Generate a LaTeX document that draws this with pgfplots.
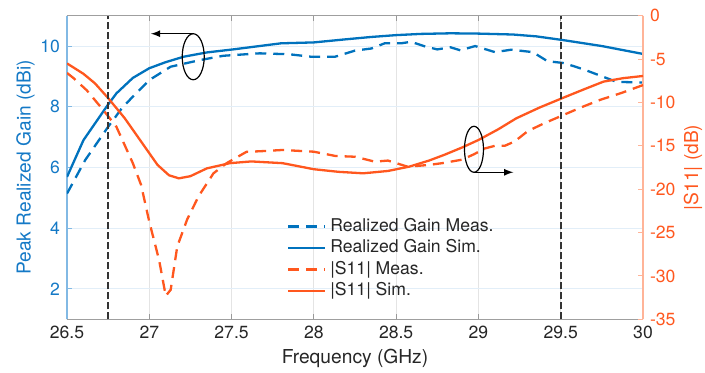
\documentclass[border=0pt]{standalone}
\usepackage{fontspec}
\setmainfont{TeX Gyre Heros}
\usepackage{pgfplots}
\pgfplotsset{compat=1.18}
\definecolor{gb}{RGB}{0,114,189}
\definecolor{gbl}{RGB}{20,121,198}
\definecolor{gbaxis}{RGB}{130,185,228}
\definecolor{so}{RGB}{255,87,30}
\definecolor{soaxis}{RGB}{255,180,152}
\definecolor{gridb}{RGB}{226,238,248}
\definecolor{gridg}{RGB}{228,228,228}
\tikzset{
  tfont/.style={font=\fontsize{8.8}{10}\selectfont},
  lfont/.style={font=\fontsize{9.6}{11}\selectfont},
}
\begin{document}
\begin{tikzpicture}
\begin{axis}[
  scale only axis, width=288pt, height=151.8pt,
  xmin=26.5, xmax=30, ymin=1, ymax=11,
  xtick={26.5,27,...,30}, ytick={2,4,...,10},
  axis x line=box, axis y line*=left,
  x axis line style={color=gray!75, line width=0.6pt},
  y axis line style={color=gbaxis, line width=0.6pt},
  xtick style={color=gray!80, line width=0.5pt},
  ytick style={color=gbaxis, line width=0.5pt},
  major tick length=2.7pt,
  tick align=inside,
  grid=major,
  x grid style={color=gridg, line width=0.5pt},
  y grid style={color=gridb, line width=0.5pt},
  /pgf/number format/assume math mode=true,
  xticklabel style={tfont, text=black!85},
  yticklabel style={tfont, text=gbl},
  xlabel={Frequency (GHz)},
  xlabel style={lfont, text=black!85, at={(axis description cs:0.5,-0.1285)}, anchor=center},
  ylabel={Peak Realized Gain (dBi)},
  ylabel style={lfont, text=gbl, at={(axis description cs:-0.072,0.5)}, anchor=center},
]
\addplot[gb, line width=1.15pt, dash pattern=on 5.5pt off 3.5pt] coordinates {
(26.50,5.14) (26.61,6.24) (26.75,7.34) (26.84,8.00) (27.00,8.88) (27.13,9.32)
(27.31,9.54) (27.45,9.68) (27.67,9.76) (27.85,9.73) (27.98,9.65) (28.13,9.65)
(28.25,9.85) (28.35,9.92) (28.43,10.09) (28.53,10.09) (28.59,10.14) (28.68,9.98)
(28.75,9.89) (28.83,9.96) (28.89,9.86) (28.98,10.00) (29.10,9.80) (29.20,9.88)
(29.33,9.80) (29.42,9.50) (29.52,9.44) (29.64,9.23) (29.84,8.82) (30.00,8.80)
};
\addplot[gb, line width=1.15pt] coordinates {
(26.50,5.69) (26.60,6.90) (26.74,8.00) (26.80,8.44) (26.90,8.95) (27.00,9.27)
(27.10,9.47) (27.21,9.65) (27.35,9.79) (27.51,9.89) (27.64,9.98) (27.80,10.09)
(28.00,10.12) (28.19,10.22) (28.35,10.30) (28.50,10.36) (28.65,10.40) (28.83,10.42)
(29.00,10.41) (29.21,10.38) (29.35,10.32) (29.51,10.20) (29.75,10.00) (30.00,9.74)
};
\draw[black, line width=0.6pt] (axis cs:27.267,9.648) ellipse [x radius=5.5pt, y radius=11.5pt];
\draw[black, line width=0.6pt, -latex] (axis cs:27.267,10.406) -- (axis cs:27.01,10.406);
\end{axis}
\begin{axis}[
  scale only axis, width=288pt, height=151.8pt,
  xmin=26.5, xmax=30, ymin=-35, ymax=0,
  ytick={-35,-30,...,0},
  axis x line=none, axis y line*=right,
  y axis line style={color=soaxis, line width=0.6pt},
  ytick style={color=soaxis, line width=0.5pt},
  major tick length=2.7pt,
  tick align=inside,
  /pgf/number format/assume math mode=true,
  yticklabel style={tfont, text=so},
  ylabel={|S11| (dB)},
  ylabel style={lfont, text=so, at={(axis description cs:1.0868,0.5)}, anchor=center},
  legend cell align=left,
  legend style={at={(0.3814,0.334)}, anchor=north west, draw=none, fill=none,
    inner sep=0pt, row sep=2.4pt, tfont,
    nodes={inner sep=0pt, text height=6.5pt, text depth=1.8pt, text=black!85}},
  legend image code/.code={\draw[#1] (0pt,0pt) -- (18.3pt,0pt);},
]
\addlegendimage{gb, line width=1.15pt, dash pattern=on 5.5pt off 3.5pt}
\addlegendentry{\hspace{2.2pt}Realized Gain Meas.}
\addlegendimage{gb, line width=1.15pt}
\addlegendentry{\hspace{2.2pt}Realized Gain Sim.}
\addplot[so, line width=1.15pt, dash pattern=on 5.5pt off 3.5pt] coordinates {
(26.50,-6.6) (26.54,-7.2) (26.62,-8.6) (26.72,-10.87) (26.80,-12.8) (26.90,-17.0)
(26.95,-19.5) (27.00,-23.75) (27.06,-28.2) (27.10,-32.3) (27.13,-31.6) (27.17,-26.6)
(27.23,-23.5) (27.30,-20.8) (27.39,-18.17) (27.47,-17.0) (27.59,-15.7) (27.70,-15.6)
(27.81,-15.48) (28.00,-15.68) (28.13,-16.17) (28.25,-16.26) (28.37,-16.83) (28.45,-16.7)
(28.57,-17.41) (28.70,-17.2) (28.78,-17.0) (28.90,-16.6) (28.97,-16.0) (29.04,-15.3)
(29.10,-15.0) (29.16,-15.0) (29.22,-14.5) (29.30,-13.3) (29.40,-12.4) (29.51,-11.5)
(29.62,-10.6) (29.74,-9.7) (29.87,-8.9) (30.00,-8.0)
};
\addlegendentry{\hspace{2.2pt}|S11| Meas.}
\addplot[so, line width=1.15pt] coordinates {
(26.50,-5.5) (26.60,-6.7) (26.67,-7.8) (26.75,-9.5) (26.85,-11.8) (26.95,-14.5)
(27.05,-17.2) (27.12,-18.4) (27.18,-18.75) (27.25,-18.5) (27.35,-17.6) (27.49,-17.0)
(27.62,-16.8) (27.81,-17.0) (28.00,-17.7) (28.15,-18.0) (28.30,-18.17) (28.45,-17.9)
(28.58,-17.4) (28.70,-16.7) (28.79,-16.06) (28.90,-15.2) (29.00,-14.33) (29.12,-13.1)
(29.23,-11.83) (29.37,-10.6) (29.51,-9.5) (29.64,-8.5) (29.76,-7.6) (29.88,-7.2)
(30.00,-6.95)
};
\addlegendentry{\hspace{2.2pt}|S11| Sim.}
\draw[black!80, line width=0.9pt, dash pattern=on 3.5pt off 1.5pt] (axis cs:26.75,-35) -- (axis cs:26.75,0);
\draw[black!80, line width=0.9pt, dash pattern=on 3.5pt off 1.5pt] (axis cs:29.5,-35) -- (axis cs:29.5,0);
\draw[black, line width=0.6pt] (axis cs:28.973,-15.40) ellipse [x radius=4.75pt, y radius=11.5pt];
\draw[black, line width=0.6pt, -latex] (axis cs:28.973,-18.05) -- (axis cs:29.212,-18.05);
\end{axis}
\pgfresetboundingbox
\path (-33.5pt,-26.85pt) rectangle (319pt,159.65pt);
\end{tikzpicture}
\end{document}
